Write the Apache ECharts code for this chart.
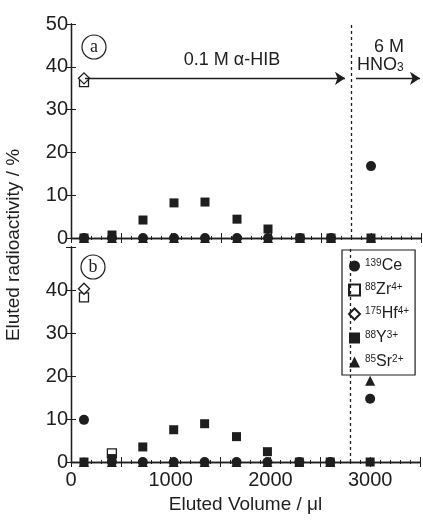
<!DOCTYPE html>
<html>
<head>
<meta charset="utf-8">
<script src="https://cdn.jsdelivr.net/npm/echarts@6/dist/echarts.min.js"></script>
<style>
  html, body { margin: 0; padding: 0; background: #fff; }
  #chart { width: 423px; height: 522px; }
</style>
</head>
<body>
<div id="chart"></div>
<script>
// eluted volume of each fraction (ul)
var volumes = [130, 410, 720, 1030, 1340, 1660, 1970, 2290, 2600, 3000];

// panel (a)
var ceA = [0, 0, 0, 0, 0, 0, 0, 0, 0, 16.8];
var zrA = [36.4, null, null, null, null, null, null, null, null, null];
var hfA = [37.3, null, null, null, null, null, null, null, null, null];
var yA  = [0, 0.7, 4.2, 8.2, 8.4, 4.4, 2.1, 0, 0, 0];
var srA = [0, 0, 0, 0, 0, 0, 0, 0, 0, 0];

// panel (b)
var ceB = [9.8, 0, 0, 0, 0, 0, 0, 0, 0, 14.7];
var zrB = [38.3, 2.0, null, null, null, null, null, null, null, null];
var hfB = [40.3, null, null, null, null, null, null, null, null, null];
var yB  = [0, 0.8, 3.5, 7.5, 8.9, 5.9, 2.4, 0, 0, 0];
var srB = [0, 0, 0, 0, 0, 0, 0, 0, 0, 18.9];

var xTicks = [0, 1000, 2000, 3000];
var yTicks = [0, 10, 20, 30, 40, 50];
var boundary = 2800; // switch to 6 M HNO3

var names = ['Ce', 'Zr', 'Hf', 'Y', 'Sr'];
var legendText = {
    Ce: '{s|139}{m|Ce}',
    Zr: '{s|88}{m|Zr}{s|4+}',
    Hf: '{s|175}{m|Hf}{s|4+}',
    Y:  '{s|88}{m|Y}{s|3+}',
    Sr: '{s|85}{m|Sr}{s|2+}'
};

var ink = '#1e1e1e';
var font = 'Liberation Sans';

function zip(vals) {
    var out = [];
    for (var i = 0; i < vals.length; i++) {
        if (vals[i] !== null) out.push([volumes[i], vals[i]]);
    }
    return out;
}

function mk(name, vals, idx, symbol, open, size) {
    return {
        name: name,
        type: 'scatter',
        xAxisIndex: idx,
        yAxisIndex: idx,
        symbol: symbol,
        symbolSize: size,
        data: zip(vals),
        itemStyle: open
            ? { color: '#fff', borderColor: ink, borderWidth: 1.3, opacity: 1 }
            : { color: ink, opacity: 1 },
        z: open ? 2 : 3
    };
}

function dashLine(idx) {
    return {
        type: 'line', xAxisIndex: idx, yAxisIndex: idx, data: [],
        markLine: {
            silent: true, symbol: 'none', label: { show: false },
            lineStyle: { color: ink, type: [3, 3], width: 1.3 },
            data: [{ xAxis: boundary }]
        }
    };
}

function xAx(grid, bottomLabels) {
    return [{
        type: 'value', gridIndex: grid, min: 0, max: 3500, interval: 500,
        position: 'bottom',
        axisLine: { lineStyle: { color: ink, width: 1.3 } },
        axisTick: { inside: true, length: 5, lineStyle: { color: ink } },
        minorTick: { show: true, splitNumber: 5, length: 2, lineStyle: { color: ink } },
        splitLine: { show: false },
        axisLabel: {
            show: bottomLabels, color: ink, fontSize: 20, fontFamily: font, margin: 8,
            formatter: function (v) { return xTicks.indexOf(v) >= 0 ? String(v) : ''; }
        },
        name: bottomLabels ? 'Eluted Volume / \u03bcl' : '',
        nameLocation: 'middle', nameGap: 33,
        nameTextStyle: { color: ink, fontSize: 19, fontFamily: font }
    }, {
        type: 'value', gridIndex: grid, min: 0, max: 3500, interval: 500,
        position: 'top',
        axisLine: { lineStyle: { color: ink, width: 1.3 } },
        axisTick: { inside: true, length: 5, lineStyle: { color: ink } },
        minorTick: { show: true, splitNumber: 5, length: 2, lineStyle: { color: ink } },
        splitLine: { show: false }, axisLabel: { show: false }
    }];
}

function yAx(grid, showTop) {
    return [{
        type: 'value', gridIndex: grid, min: 0, max: 50, interval: 10,
        position: 'left',
        axisLine: { show: true, lineStyle: { color: ink, width: 1.3 } },
        axisTick: { show: true, inside: true, length: 5, lineStyle: { color: ink } },
        splitLine: { show: false },
        axisLabel: {
            color: ink, fontSize: 20, fontFamily: font, margin: 3,
            formatter: function (v) {
                if (v === 50 && !showTop) return '';
                return yTicks.indexOf(v) >= 0 ? String(v) : '';
            }
        }
    }, {
        type: 'value', gridIndex: grid, min: 0, max: 50, interval: 10,
        position: 'right',
        axisLine: { show: true, lineStyle: { color: ink, width: 1.3 } },
        axisTick: { show: true, inside: true, length: 5, lineStyle: { color: ink } },
        splitLine: { show: false }, axisLabel: { show: false }
    }];
}

var series = [
    // panel a -> axis index 0
    mk('Zr', zrA, 0, 'rect', true, 9),
    mk('Hf', hfA, 0, 'diamond', true, 11),
    mk('Sr', srA, 0, 'triangle', false, 10),
    mk('Ce', ceA, 0, 'circle', false, 10),
    mk('Y', yA, 0, 'rect', false, 9),
    dashLine(0),
    {
        type: 'line', xAxisIndex: 0, yAxisIndex: 0, data: [],
        markLine: {
            silent: true, symbol: ['none', 'arrow'], symbolSize: 10,
            label: { show: false },
            lineStyle: { color: ink, type: 'solid', width: 1.4 },
            data: [
                [{ coord: [140, 37.3] }, { coord: [2740, 37.3] }],
                [{ coord: [2850, 37.3] }, { coord: [3490, 37.3] }]
            ]
        }
    },
    // panel b -> axis index 2
    mk('Zr', zrB, 2, 'rect', true, 9),
    mk('Hf', hfB, 2, 'diamond', true, 11),
    mk('Sr', srB, 2, 'triangle', false, 10),
    mk('Ce', ceB, 2, 'circle', false, 10),
    mk('Y', yB, 2, 'rect', false, 9),
    dashLine(2)
];

var chart = echarts.init(document.getElementById('chart'));
chart.setOption({
    backgroundColor: '#fff',
    animation: false,
    textStyle: { fontFamily: font },
    grid: [
        { left: 71, top: 24, width: 350, height: 214 },
        { left: 71, top: 247, width: 350, height: 215 }
    ],
    xAxis: xAx(0, false).concat(xAx(1, true)),
    yAxis: yAx(0, true).concat(yAx(1, false)),
    legend: {
        data: names,
        orient: 'vertical',
        left: 342, top: 250,
        padding: [8, 6, 5, 6],
        itemGap: 8,
        itemWidth: 11, itemHeight: 11,
        backgroundColor: '#fff',
        borderColor: ink, borderWidth: 1.2, borderRadius: 0,
        formatter: function (n) { return legendText[n]; },
        textStyle: {
            color: ink,
            rich: {
                s: { fontSize: 10, fontFamily: font, color: ink, verticalAlign: 'top', lineHeight: 16, padding: [0, 0, 6, 0] },
                m: { fontSize: 16, fontFamily: font, color: ink, lineHeight: 16 }
            }
        }
    },
    series: series,
    graphic: [
        { type: 'circle', shape: { cx: 94, cy: 47, r: 12 }, style: { fill: 'none', stroke: ink, lineWidth: 1.2 } },
        { type: 'text', x: 94, y: 47, style: { text: 'a', fill: ink, font: '18px "Liberation Serif"', align: 'center', verticalAlign: 'middle' } },
        { type: 'circle', shape: { cx: 93, cy: 267, r: 12 }, style: { fill: 'none', stroke: ink, lineWidth: 1.2 } },
        { type: 'text', x: 93, y: 267, style: { text: 'b', fill: ink, font: '18px "Liberation Serif"', align: 'center', verticalAlign: 'middle' } },
        { type: 'text', x: 232, y: 60, style: { text: '0.1 M \u03b1-HIB', fill: ink, font: '18px "Liberation Sans"', align: 'center', verticalAlign: 'middle' } },
        { type: 'text', x: 389, y: 47, style: { text: '6 M', fill: ink, font: '18px "Liberation Sans"', align: 'center', verticalAlign: 'middle' } },
        {
            type: 'text', x: 357, y: 56,
            style: {
                text: '{m|HNO}{b|3}', fill: ink,
                rich: {
                    m: { fontSize: 18, fontFamily: font, fill: ink, lineHeight: 18 },
                    b: { fontSize: 12, fontFamily: font, fill: ink, verticalAlign: 'bottom', lineHeight: 18, padding: [8, 0, 0, 0] }
                }
            }
        },
        {
            type: 'text', x: 14, y: 245, rotation: Math.PI / 2,
            style: { text: 'Eluted radioactivity / %', fill: ink, font: '19px "Liberation Sans"', align: 'center', verticalAlign: 'middle' }
        }
    ]
});
</script>
</body>
</html>
